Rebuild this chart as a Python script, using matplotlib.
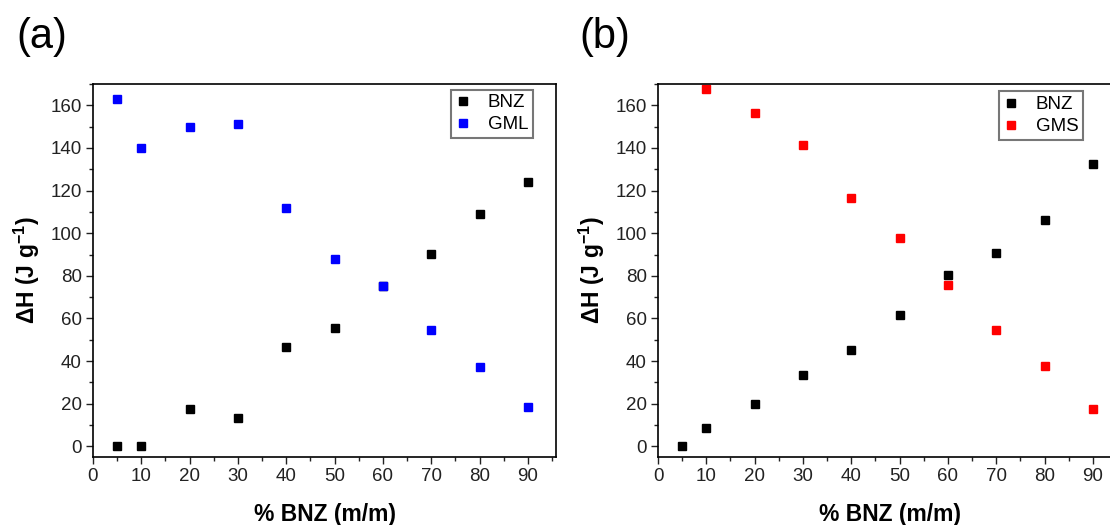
import matplotlib
matplotlib.use('Agg')
import matplotlib.pyplot as plt
from matplotlib.ticker import MultipleLocator

plt.rcParams['font.family'] = ['Liberation Sans', 'DejaVu Sans']
plt.rcParams['mathtext.fontset'] = 'custom'
plt.rcParams['mathtext.rm'] = 'Liberation Sans'
plt.rcParams['mathtext.bf'] = 'Liberation Sans:bold'

# --- data ---
x_a = [5, 10, 20, 30, 40, 50, 60, 70, 80, 90]
bnz_a = [0, 0, 17.3, 13.5, 46.4, 55.5, 75.3, 90.3, 108.9, 124.1]
gml = [162.8, 140.1, 150.0, 151.2, 112.0, 87.8, 75.3, 54.5, 37.0, 18.3]

x_b_bnz = [5, 10, 20, 30, 40, 50, 60, 70, 80, 90]
bnz_b = [0, 8.5, 19.9, 33.5, 45.0, 61.6, 80.2, 90.6, 106.3, 132.4]
x_b_gms = [10, 20, 30, 40, 50, 60, 70, 80, 90]
gms = [167.5, 156.2, 141.2, 116.3, 97.8, 75.5, 54.7, 37.5, 17.4]

xticks = [0, 10, 20, 30, 40, 50, 60, 70, 80, 90]
yticks = [0, 20, 40, 60, 80, 100, 120, 140, 160]

fig = plt.figure(figsize=(11.1, 5.25), dpi=100)
W, H = 1110, 525

def make_axes(left_px):
    # axes box: 463 px wide, spans y 84..457 px
    return fig.add_axes([left_px / W, (H - 457) / H, 463 / W, 373 / H])

def style(ax):
    ax.set_xlim(0, 95.8)
    ax.set_ylim(-5, 170)
    ax.set_xticks(xticks)
    ax.set_yticks(yticks)
    ax.xaxis.set_minor_locator(MultipleLocator(5))
    ax.yaxis.set_minor_locator(MultipleLocator(10))
    ax.tick_params(which='both', direction='out', top=False, right=False,
                   labelsize=13.5, width=1.0, colors='#222222', pad=3)
    ax.tick_params(which='major', length=5)
    ax.tick_params(which='minor', length=3)
    for s in ax.spines.values():
        s.set_linewidth(1.2)
    ax.set_xlabel('% BNZ (m/m)', fontsize=16.5, fontweight='bold', labelpad=13)
    ax.set_ylabel('ΔH (J g$^{\\mathbf{-1}}$)', fontsize=16.5, fontweight='bold', labelpad=6)

def legend(ax, anchor):
    leg = ax.legend(loc='upper right', bbox_to_anchor=anchor, fontsize=13.5,
                    frameon=True, fancybox=False, handlelength=0.8,
                    handletextpad=0.9, borderpad=0.25, labelspacing=0.25,
                    borderaxespad=0)
    leg.get_frame().set_edgecolor('#555555')
    leg.get_frame().set_linewidth(1.5)

ms = 6

# panel (a)
ax1 = make_axes(93)
ax1.plot(x_a, bnz_a, 's', color='black', ms=ms, label='BNZ')
ax1.plot(x_a, gml, 's', color='#0000ff', ms=ms, label='GML')
style(ax1)
legend(ax1, (0.95, 0.985))

# panel (b) -- right edge runs past the figure like the original crop
ax2 = make_axes(658)
ax2.plot(x_b_bnz, bnz_b, 's', color='black', ms=ms, label='BNZ')
ax2.plot(x_b_gms, gms, 's', color='#ff0000', ms=ms, label='GMS')
style(ax2)
legend(ax2, (0.918, 0.98))

fig.text(16 / W, 1 - 37 / H, '(a)', fontsize=30, va='center', ha='left')
fig.text(579 / W, 1 - 37 / H, '(b)', fontsize=30, va='center', ha='left')

fig.savefig('out.png', dpi=100)
